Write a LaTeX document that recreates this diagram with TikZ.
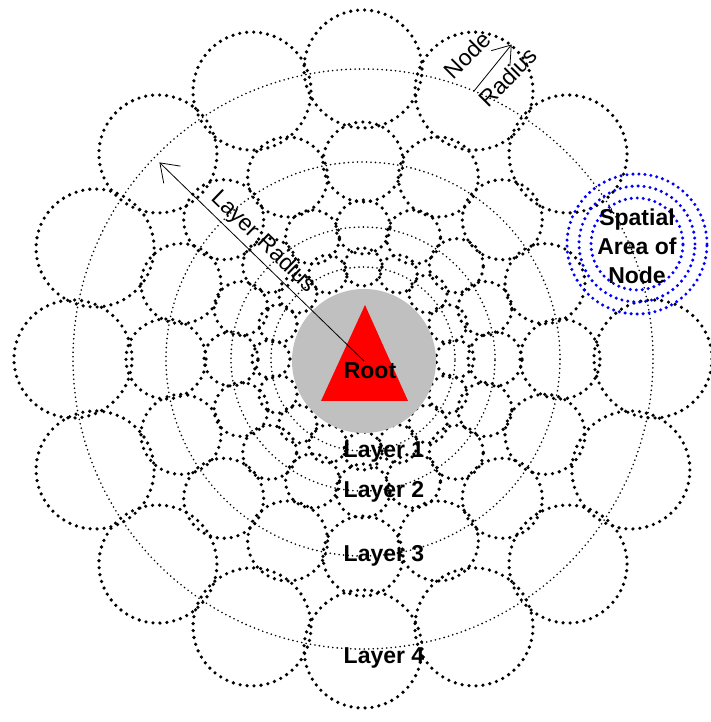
\documentclass[tikz,border=0pt]{standalone}
\usepackage{fontspec}
\setmainfont{Liberation Sans}
\usetikzlibrary{arrows.meta}
\definecolor{rootgray}{RGB}{192,192,192}

\begin{document}
\begin{tikzpicture}[x=1pt,y=1pt,
    layerring/.style={circle,draw,line width=1.8pt,dash pattern=on 0pt off 4.5pt,line cap=round,inner sep=0pt},
    treenode/.style={circle,draw,line width=3.6pt,dash pattern=on 0pt off 7pt,line cap=round,inner sep=0pt},
    area/.style={circle,draw=blue,line width=3.4pt,dash pattern=on 0pt off 6pt,line cap=round,inner sep=0pt},
    radarrow/.style={line width=0.8pt,-{Straight Barb[length=17pt,width=24pt,line width=0.8pt]}},
    lbl/.style={font=\fontsize{23}{29}\selectfont\bfseries},
    thinlbl/.style={font=\fontsize{23}{29}\selectfont}]
  \useasboundingbox (-363,-363) rectangle (348,359);

  % layer rings
  \foreach \l/\r in {1/92,2/132,3/197,4/290}
    \node[layerring,minimum size={2*\r*1pt}] (layer\l) at (0,0) {};

  % nodes on each layer
  \foreach \l/\r/\s in {1/92/19,2/132/27,3/197/40,4/290/59}
    \foreach \k in {0,...,15}{
      \ifnum\l\k=43 \else
        \node[treenode,minimum size={2*\s*1pt}] (n\l-\k) at ({90-22.5*\k}:\r) {};
      \fi
    }

  % spatial area of one node
  \foreach \s/\r in {a/46,b/58,c/70}
    \node[area,minimum size={2*\r*1pt}] (area\s) at (274,115) {};
  \node[lbl,align=center] (areatxt) at (274,113) {Spatial\\Area of\\Node};

  % root
  \node[circle,fill=rootgray,minimum size=144pt,inner sep=0pt] (root) at (1,-2) {};
  \fill[red] (-42,-42) -- (2,54) -- (45,-42) -- cycle;
  \node[lbl] (roottxt) at (7,-12) {Root};

  % radii
  \coordinate (lrtip) at (136:283);
  \draw[radarrow] (root.center) -- (lrtip);
  \node[thinlbl,rotate=-44] (lrtxt) at (-100,117) {Layer Radius};
  \draw[radarrow] (n4-1.center) -- ([shift={(51:60)}]n4-1.center);
  \node[thinlbl,rotate=45] (nodetxt) at (104,304) {Node};
  \node[thinlbl,rotate=45] (radtxt) at (145,282) {Radius};

  % layer labels
  \node[lbl] (l1txt) at (21,-93) {Layer 1};
  \node[lbl] (l2txt) at (21,-133) {Layer 2};
  \node[lbl] (l3txt) at (21,-197) {Layer 3};
  \node[lbl] (l4txt) at (21,-299) {Layer 4};
\end{tikzpicture}
\end{document}
